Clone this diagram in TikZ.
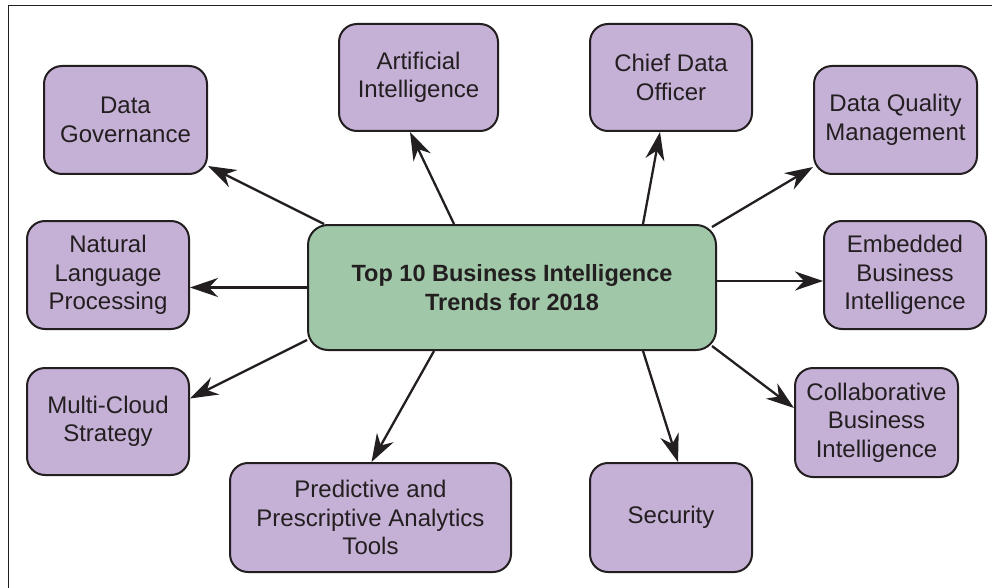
\documentclass[tikz,border=0pt]{standalone}
\usepackage{fontspec}
\setmainfont{Liberation Sans}
\usetikzlibrary{arrows.meta,calc}
\definecolor{boxpurple}{RGB}{197,176,214}
\definecolor{boxgreen}{RGB}{160,200,168}
\definecolor{inkc}{RGB}{35,31,32}
\tikzset{
  topic/.style={draw=inkc, line width=2pt, fill=boxpurple, rounded corners=18pt,
    align=center, inner sep=0pt, text=inkc, font=\fontsize{24}{28.5}\selectfont},
  hub/.style={draw=inkc, line width=2pt, fill=boxgreen, rounded corners=20pt,
    align=center, inner sep=0pt, text=inkc, font=\fontsize{23.5}{29}\selectfont\bfseries,
    minimum width=408pt, minimum height=125pt},
  arr/.style={draw=inkc, line width=2.3pt, -{Stealth[length=28pt,width=19pt,inset=9pt]}},
  frameline/.style={draw=inkc, line width=1.6pt}
}
\begin{document}
\begin{tikzpicture}
\useasboundingbox (0,0) rectangle (992pt,-588pt);
\draw[frameline] (8.5pt,-588pt) -- (8.5pt,-5.5pt) -- (992pt,-5.5pt);

\node[hub] (c) at (512pt,-287.5pt) {Top 10 Business Intelligence\\Trends for 2018};

\node[topic, minimum width=163pt, minimum height=108pt] (dg)  at (125.5pt,-120pt) {Data\\Governance};
\node[topic, minimum width=159pt, minimum height=107pt] (ai)  at (418.5pt,-77.5pt) {Artificial\\Intelligence};
\node[topic, minimum width=162pt, minimum height=107pt] (cdo) at (671pt,-77.5pt) {Chief Data\\Officer};
\node[topic, minimum width=163pt, minimum height=108pt] (dqm) at (895.5pt,-120pt) {Data Quality\\Management};
\node[topic, minimum width=162pt, minimum height=108pt] (nlp) at (108pt,-275pt) {Natural\\Language\\Processing};
\node[topic, minimum width=162pt, minimum height=108pt] (ebi) at (905pt,-275pt) {Embedded\\Business\\Intelligence};
\node[topic, minimum width=162pt, minimum height=107pt] (mcs) at (108pt,-421.5pt) {Multi-Cloud\\Strategy};
\node[topic, minimum width=163pt, minimum height=109pt] (cbi) at (876.5pt,-422.5pt) {Collaborative\\Business\\Intelligence};
\node[topic, minimum width=281pt, minimum height=109pt] (ppa) at (370.5pt,-517.5pt) {Predictive and\\Prescriptive Analytics\\Tools};
\node[topic, minimum width=162pt, minimum height=109pt] (sec) at (671pt,-517.5pt) {Security};

\draw[arr] ($(c.north west)+(17pt,0)$) -- ($(dg.south east)+(0,9pt)$);
\draw[arr] ($(c.north)+(-58pt,0)$) -- ($(ai.south)+(-8.5pt,0)$);
\draw[arr] ($(c.north)+(131pt,0)$) -- ($(cdo.south)+(-11pt,0)$);
\draw[arr] ($(c.north east)+(-5pt,-3pt)$) -- ($(dqm.south west)+(0,8pt)$);
\draw[arr] (c.west) -- ($(nlp.east)+(0,-12.5pt)$);
\draw[arr] ($(c.east)+(0,6.5pt)$) -- ($(ebi.west)+(0,-6pt)$);
\draw[arr] ($(c.south west)+(0,11pt)$) -- ($(mcs.east)+(0,23pt)$);
\draw[arr] ($(c.south)+(-78pt,0)$) -- ($(ppa.north)+(1pt,0)$);
\draw[arr] ($(c.south east)+(-5pt,5pt)$) -- ($(cbi.west)+(0,14.5pt)$);
\draw[arr] ($(c.south)+(131pt,0)$) -- ($(sec.north)+(7pt,0)$);
\end{tikzpicture}
\end{document}
